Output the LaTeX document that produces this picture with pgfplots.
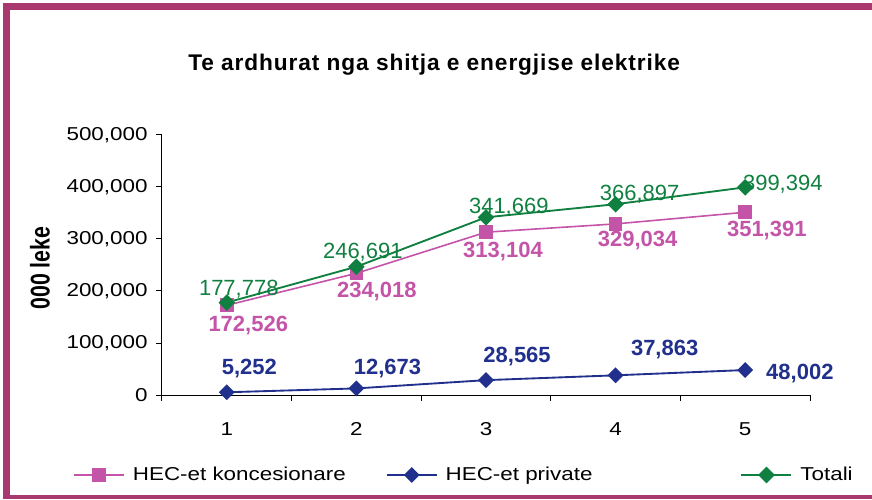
\documentclass[border=0pt]{standalone}
\usepackage{fontspec}
\setmainfont{Liberation Sans}
\newfontfamily\widefont{Liberation Sans}[FakeStretch=1.2]
\newfontfamily\titlefont{Liberation Sans}[LetterSpace=4]
\usepackage{graphicx}
\usepackage{pgfplots}
\usepackage{pgfplotstable}
\pgfplotsset{compat=1.18}
\definecolor{framec}{RGB}{168,56,110}
\definecolor{kon}{RGB}{195,84,168}
\definecolor{tot}{RGB}{16,128,64}
\definecolor{priv}{RGB}{32,48,140}

\pgfplotstableread{
x y dx dy
1 172526 16.1 -14
2 234018 15.3 -12.5
3 313104 12.75 -13.5
4 329034 16.5 -11
5 351391 16.2 -12.2
}\konTab

\pgfplotstableread{
x y dx dy
1 5252 16.9 19.4
2 12673 23.3 16.5
3 28565 23.3 18.8
4 37863 36.8 20.3
5 48002 41 -1.1
}\privTab

\pgfplotstableread{
x y dx dy
1 177778 9 11
2 246691 4.8 11.8
3 341669 17.1 8.9
4 366897 18 8.8
5 399394 28.2 3.2
}\totTab

\begin{document}
\begin{tikzpicture}
\useasboundingbox (-121.5pt,-78.75pt) rectangle (532.5pt,296.25pt);
\begin{axis}[
  scale only axis, width=486pt, height=195pt,
  xmin=0.5, xmax=5.5, ymin=0, ymax=500000,
  clip=false,
  axis lines*=left,
  xtick={1,2,3,4,5},
  minor xtick={0.5,1.5,2.5,3.5,4.5,5.5},
  ytick={0,100000,200000,300000,400000,500000},
  tick align=outside,
  major tick length=4.5pt, minor tick length=4.5pt,
  major x tick style={draw=none},
  tick style={black, line width=0.75pt},
  axis line style={black, line width=0.75pt},
  scaled y ticks=false,
  /pgf/number format/assume math mode=true,
  yticklabel style={font=\widefont\fontsize{14}{16}\selectfont, /pgf/number format/fixed, /pgf/number format/1000 sep={,}, xshift=-2.8pt},
  xticklabel style={font=\widefont\fontsize{14}{16}\selectfont, yshift=-12.7pt},
  ylabel={\scalebox{1}[1.27]{\bfseries\fontsize{16}{18}\selectfont 000 leke}},
  ylabel style={at={(axis description cs:-0.1883,0.4885)}, anchor=center},
  title={Te ardhurat nga shitja e energjise elektrike},
  title style={at={(axis description cs:0.42,1.238)}, anchor=center, font=\titlefont\bfseries\fontsize{17}{19}\selectfont},
  legend columns=3,
  legend style={at={(axis description cs:-0.1373,-0.3077)}, anchor=west, draw=none, fill=none, inner sep=0pt, font=\widefont\fontsize{14}{16}\selectfont},
  legend image code/.code={\draw[mark repeat=2,mark phase=2,#1] plot coordinates {(0pt,0pt) (18.75pt,0pt) (37.5pt,0pt)};},
]
\addplot[color=kon, line width=1.2pt, mark=square*, mark size=4.5pt, mark options={solid, fill=kon},
  visualization depends on={\thisrow{dx}\as\dx},
  visualization depends on={\thisrow{dy}\as\dy},
  point meta=\thisrow{y},
  nodes near coords={\pgfmathprintnumber[fixed,precision=0,1000 sep={,}]{\pgfplotspointmeta}},
  every node near coord/.append style={font=\bfseries\fontsize{16.5}{18}\selectfont, text=kon, anchor=center, inner sep=0pt, text depth=0pt, xshift=\dx pt, yshift=\dy pt}
] table[x=x,y=y] {\konTab};
\addlegendentry{\hspace*{4pt}HEC-et koncesionare\hspace*{28pt}}
\addplot[color=priv, line width=1.4pt, mark=square*, mark size=3.5pt, mark options={solid, fill=priv, rotate=45},
  visualization depends on={\thisrow{dx}\as\dx},
  visualization depends on={\thisrow{dy}\as\dy},
  point meta=\thisrow{y},
  nodes near coords={\pgfmathprintnumber[fixed,precision=0,1000 sep={,}]{\pgfplotspointmeta}},
  every node near coord/.append style={font=\bfseries\fontsize{16.5}{18}\selectfont, text=priv, anchor=center, inner sep=0pt, text depth=0pt, xshift=\dx pt, yshift=\dy pt}
] table[x=x,y=y] {\privTab};
\addlegendentry{\hspace*{4pt}HEC-et private\hspace*{109pt}}
\addplot[color=tot, line width=1.4pt, mark=square*, mark size=3.7pt, mark options={solid, fill=tot, rotate=45},
  visualization depends on={\thisrow{dx}\as\dx},
  visualization depends on={\thisrow{dy}\as\dy},
  point meta=\thisrow{y},
  nodes near coords={\pgfmathprintnumber[fixed,precision=0,1000 sep={,}]{\pgfplotspointmeta}},
  every node near coord/.append style={font=\fontsize{16.5}{18}\selectfont, text=tot, anchor=center, inner sep=0pt, text depth=0pt, xshift=\dx pt, yshift=\dy pt}
] table[x=x,y=y] {\totTab};
\addlegendentry{\hspace*{4pt}Totali}
\end{axis}
\draw[framec, line width=5.25pt] (-116.6pt,-76.5pt) -- (-116.6pt,291.4pt);
\draw[framec, line width=5.25pt] (-119.2pt,291.4pt) -- (540pt,291.4pt);
\draw[framec, line width=3.5pt] (-119.2pt,-76.5pt) -- (540pt,-76.5pt);
\end{tikzpicture}
\end{document}
